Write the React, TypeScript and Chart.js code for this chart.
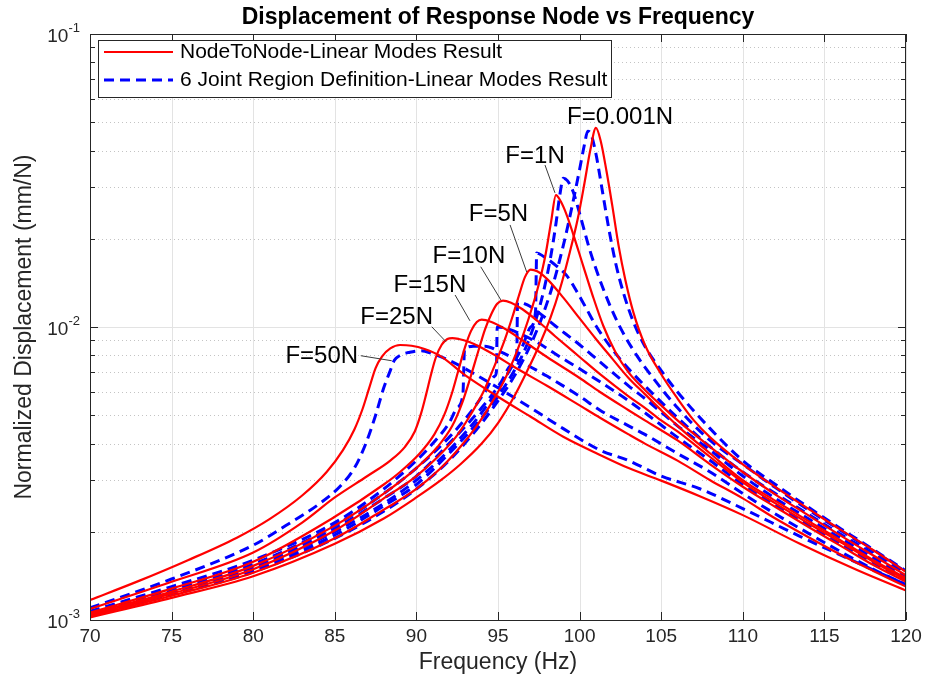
import React, { useEffect, useRef } from 'react';
import { Chart, registerables } from 'chart.js';

Chart.register(...registerables);

// ---------------- axis ticks ----------------
const xTickValues = [70, 75, 80, 85, 90, 95, 100, 105, 110, 115, 120];
const xTickLabels = ['70', '75', '80', '85', '90', '95', '100', '105', '110', '115', '120'];
const yTickValues = [0.001, 0.01, 0.1];
const yTickExponents = ['-3', '-2', '-1'];
const yMinorMultipliers = [2, 3, 4, 5, 6, 7, 8, 9];

// ---------------- NodeToNode (red, solid) ----------------
const nodeHz_0001 = [70, 75, 80, 85, 88, 90, 91.5, 92.7, 94, 95, 96, 96.8, 97.5, 98.2, 98.8, 99.4, 99.9, 100.3, 100.65, 101.0, 101.3, 101.65, 102.0, 102.4, 102.8, 103.3, 104, 105, 106, 107, 108, 110, 112, 114, 116, 118, 120];
const nodeVal_0001 = [0.00102, 0.00119, 0.00141, 0.00182, 0.00222, 0.00262, 0.003, 0.0034, 0.004, 0.0047, 0.0058, 0.0071, 0.0086, 0.0107, 0.0135, 0.018, 0.0236, 0.031, 0.04, 0.0478, 0.043, 0.034, 0.026, 0.0188, 0.0145, 0.0112, 0.0087, 0.0069, 0.0057, 0.0048, 0.0042, 0.0034, 0.00284, 0.0024, 0.00203, 0.00173, 0.00146];

const nodeHz_1 = [70, 75, 80, 85, 88, 90, 91.5, 92.7, 93.7, 94.6, 95.4, 96.1, 96.6, 97.1, 97.5, 97.9, 98.25, 98.55, 98.85, 99.2, 99.6, 100.2, 100.8, 101.45, 102.2, 103, 104, 105, 106, 108, 110, 112, 114, 116, 118, 120];
const nodeVal_1 = [0.00103, 0.00121, 0.00145, 0.0019, 0.00238, 0.0028, 0.0033, 0.0039, 0.0046, 0.0055, 0.0066, 0.0081, 0.0096, 0.0117, 0.014, 0.0175, 0.0228, 0.0282, 0.0268, 0.0242, 0.0208, 0.0163, 0.0128, 0.0101, 0.0082, 0.007, 0.0061, 0.0054, 0.0048, 0.0039, 0.0032, 0.00268, 0.00228, 0.00194, 0.00166, 0.00142];

const nodeHz_5 = [70, 75, 80, 85, 88, 90, 91.3, 92.4, 93.3, 94.1, 94.8, 95.4, 95.9, 96.3, 96.65, 97.0, 97.4, 98, 99, 100, 101, 102, 103, 104, 105, 106, 108, 110, 112, 114, 116, 118, 120];
const nodeVal_5 = [0.00104, 0.00123, 0.00149, 0.00202, 0.0026, 0.0031, 0.0036, 0.0042, 0.005, 0.006, 0.0074, 0.009, 0.0109, 0.0129, 0.0148, 0.0157, 0.0155, 0.0146, 0.0126, 0.0107, 0.0091, 0.0078, 0.0067, 0.0059, 0.0052, 0.0046, 0.0037, 0.003, 0.00255, 0.00218, 0.00187, 0.0016, 0.00139];

const nodeHz_10 = [70, 75, 80, 85, 88, 90, 91.3, 92.2, 92.8, 93.3, 93.8, 94.2, 94.6, 94.95, 95.3, 95.8, 96.5, 97.5, 98.5, 100, 101.25, 103, 104, 105, 106, 108, 110, 112, 114, 116, 118, 120];
const nodeVal_10 = [0.00105, 0.00125, 0.00153, 0.0021, 0.0027, 0.0033, 0.0039, 0.0046, 0.0055, 0.0067, 0.0083, 0.0098, 0.0111, 0.012, 0.0123, 0.0121, 0.0115, 0.0104, 0.0093, 0.0079, 0.0069, 0.0058, 0.0053, 0.0048, 0.0044, 0.0036, 0.00295, 0.0025, 0.00214, 0.00184, 0.00158, 0.00137];

const nodeHz_15 = [70, 75, 80, 85, 88, 89, 90.2, 91.1, 91.7, 92.2, 92.6, 93.0, 93.35, 93.7, 94.0, 94.6, 95.5, 96.5, 98, 100, 101.25, 103, 104, 106, 108, 110, 112, 114, 116, 118, 120];
const nodeVal_15 = [0.00106, 0.00128, 0.00158, 0.00225, 0.0029, 0.0032, 0.0037, 0.0043, 0.005, 0.006, 0.0072, 0.0086, 0.0097, 0.0104, 0.0106, 0.0104, 0.0098, 0.009, 0.0079, 0.0067, 0.006, 0.0052, 0.0048, 0.0041, 0.0034, 0.00285, 0.00243, 0.00208, 0.00179, 0.00154, 0.00135];

const nodeHz_25 = [70, 75, 80, 83, 85, 87, 88.4, 89.3, 89.9, 90.3, 90.6, 90.9, 91.2, 91.55, 91.9, 92.2, 92.6, 93.2, 94, 95, 96, 98, 100, 101.25, 103, 104, 106, 108, 110, 112, 114, 116, 118, 120];
const nodeVal_25 = [0.00109, 0.00135, 0.0017, 0.00215, 0.00262, 0.0031, 0.0035, 0.0039, 0.0044, 0.0051, 0.0059, 0.0069, 0.0079, 0.0087, 0.0091, 0.00917, 0.0091, 0.0089, 0.0085, 0.0079, 0.0073, 0.0063, 0.0054, 0.0049, 0.0043, 0.004, 0.0035, 0.003, 0.0026, 0.00222, 0.00192, 0.00167, 0.00147, 0.0013];

const nodeHz_50 = [70, 73, 76, 79, 81, 83, 84.5, 85.5, 86.2, 86.7, 87.1, 87.5, 87.9, 88.4, 89.0, 89.7, 90.5, 91.5, 93, 95, 97, 99, 101.25, 103, 105, 107.4, 110, 113.5, 117, 120];
const nodeVal_50 = [0.00117, 0.00136, 0.0016, 0.00191, 0.00221, 0.00266, 0.0032, 0.0038, 0.00447, 0.00525, 0.00617, 0.00724, 0.00794, 0.00845, 0.00868, 0.00863, 0.00841, 0.00794, 0.00684, 0.00578, 0.00494, 0.00422, 0.00366, 0.0033, 0.00299, 0.00264, 0.00228, 0.00182, 0.00148, 0.00126];

// ---------------- 6 Joint Region Definition (blue, dashed) ----------------
const jointHz_0001 = [70, 75, 80, 85, 88, 90, 92, 94, 95, 96, 97, 97.8, 98.5, 99.1, 99.6, 100.0, 100.3, 100.5, 100.7, 101.0, 101.4, 101.8, 102.2, 102.7, 103.3, 104, 105, 106, 108, 110, 112, 114, 116, 118, 120];
const jointVal_0001 = [0.00104, 0.00122, 0.00146, 0.0019, 0.00235, 0.0028, 0.0035, 0.0047, 0.0056, 0.0068, 0.0087, 0.0112, 0.0148, 0.02, 0.0268, 0.0345, 0.042, 0.0466, 0.0455, 0.039, 0.029, 0.0215, 0.0166, 0.013, 0.0104, 0.0086, 0.0071, 0.006, 0.0045, 0.0035, 0.0029, 0.00243, 0.00205, 0.00174, 0.00147];

const jointHz_1 = [70, 75, 80, 85, 88, 90, 92, 94, 95, 96, 96.7, 97.3, 97.8, 98.2, 98.55, 98.8, 99.0, 99.25, 99.6, 100.1, 100.6, 101.2, 101.9, 102.6, 103.5, 104.5, 106, 108, 110, 112, 114, 116, 118, 120];
const jointVal_1 = [0.00104, 0.00123, 0.00148, 0.00195, 0.00245, 0.0029, 0.0037, 0.0049, 0.0058, 0.0071, 0.0085, 0.0105, 0.0133, 0.017, 0.0225, 0.0285, 0.0322, 0.0316, 0.029, 0.0233, 0.0185, 0.0147, 0.0117, 0.0097, 0.008, 0.0067, 0.0053, 0.0041, 0.0034, 0.00283, 0.00238, 0.00202, 0.00172, 0.00146];

const jointHz_5 = [70, 75, 80, 85, 88, 90, 92, 94, 95.5, 96.5, 97.0, 97.3, 97.37, 97.8, 98.5, 99.2, 99.8, 100.4, 101, 102, 103, 104, 106, 108, 110, 112, 114, 116, 118, 120];
const jointVal_5 = [0.00104, 0.00124, 0.0015, 0.002, 0.0025, 0.003, 0.0038, 0.0051, 0.0068, 0.0086, 0.01, 0.0113, 0.0179, 0.0174, 0.0163, 0.015, 0.0133, 0.0116, 0.0101, 0.0084, 0.0072, 0.0063, 0.0049, 0.0039, 0.0032, 0.0027, 0.0023, 0.00196, 0.00168, 0.00143];

const jointHz_10 = [70, 75, 80, 85, 88, 90, 92, 94, 95.2, 95.8, 96.15, 96.2, 96.8, 97.5, 98.5, 100, 101.25, 103, 104, 106, 108, 110, 112, 114, 116, 118, 120];
const jointVal_10 = [0.00105, 0.00126, 0.00152, 0.00205, 0.0026, 0.0031, 0.004, 0.0053, 0.0065, 0.0074, 0.0081, 0.0122, 0.0119, 0.0112, 0.0101, 0.0087, 0.0076, 0.0063, 0.0057, 0.0046, 0.0038, 0.0031, 0.0026, 0.00222, 0.0019, 0.00163, 0.0014];

const jointHz_15 = [70, 75, 80, 85, 88, 90, 92, 93.3, 94.2, 94.8, 94.9, 94.95, 95.5, 96.5, 97.5, 98.5, 100, 101.25, 103, 104, 106, 108, 110, 112, 114, 116, 118, 120];
const jointVal_15 = [0.00105, 0.00127, 0.00155, 0.0021, 0.0027, 0.0033, 0.0042, 0.0051, 0.006, 0.0068, 0.007, 0.01, 0.0099, 0.0094, 0.0088, 0.0081, 0.0072, 0.0065, 0.0056, 0.0051, 0.0042, 0.0035, 0.0029, 0.00247, 0.00211, 0.00182, 0.00157, 0.00137];

const jointHz_25 = [70, 75, 80, 85, 88, 90, 91, 92, 92.5, 92.85, 92.95, 93.5, 94.2, 95, 96, 97, 98, 100, 101.25, 103, 104, 106, 108, 110, 112, 114, 116, 118, 120];
const jointVal_25 = [0.00107, 0.0013, 0.0016, 0.00215, 0.0028, 0.0035, 0.004, 0.0047, 0.0053, 0.0059, 0.0084, 0.0086, 0.0086, 0.0083, 0.0078, 0.0073, 0.0068, 0.0058, 0.0052, 0.0046, 0.0043, 0.0037, 0.0032, 0.0027, 0.0023, 0.00198, 0.00171, 0.00149, 0.00132];

const jointHz_50 = [70, 75, 80, 82, 84, 85.3, 86.2, 86.9, 87.5, 88.0, 88.4, 88.65, 89.0, 89.6, 90.3, 91, 92, 93, 95, 97, 99, 101.25, 103, 105, 107.4, 110, 113.5, 117, 120];
const jointVal_50 = [0.0011, 0.00138, 0.0018, 0.0021, 0.00248, 0.00285, 0.0033, 0.004, 0.005, 0.0062, 0.0071, 0.0077, 0.008, 0.0082, 0.0083, 0.0081, 0.0077, 0.0072, 0.0062, 0.0053, 0.0045, 0.0038, 0.0035, 0.0031, 0.0028, 0.0024, 0.00193, 0.00157, 0.00132];

const legendLabels = ['NodeToNode-Linear Modes Result', '6 Joint Region Definition-Linear Modes Result'];

const redSeries = [
  [nodeHz_0001, nodeVal_0001], [nodeHz_1, nodeVal_1], [nodeHz_5, nodeVal_5], [nodeHz_10, nodeVal_10],
  [nodeHz_15, nodeVal_15], [nodeHz_25, nodeVal_25], [nodeHz_50, nodeVal_50],
];
const blueSeries = [
  [jointHz_0001, jointVal_0001], [jointHz_1, jointVal_1], [jointHz_5, jointVal_5], [jointHz_10, jointVal_10],
  [jointHz_15, jointVal_15], [jointHz_25, jointVal_25], [jointHz_50, jointVal_50],
];

// ---------------- text annotations (data coordinates) ----------------
type Ann = { text: string; at: [number, number]; from?: [number, number]; to?: [number, number] };
const annotations: Ann[] = [
  { text: 'F=0.001N', at: [102.48, 0.0521] },
  { text: 'F=1N', at: [97.27, 0.0383], from: [97.88, 0.0357], to: [98.49, 0.0287] },
  { text: 'F=5N', at: [95.03, 0.0243], from: [95.74, 0.0223], to: [96.76, 0.0154] },
  { text: 'F=10N', at: [93.22, 0.01747], from: [93.94, 0.01606], to: [95.18, 0.01236] },
  { text: 'F=15N', at: [90.83, 0.0139], from: [92.37, 0.01286], to: [93.28, 0.0105] },
  { text: 'F=25N', at: [88.79, 0.01077], from: [90.94, 0.01002], to: [91.81, 0.00891] },
  { text: 'F=50N', at: [84.2, 0.00796], from: [86.59, 0.00798], to: [88.49, 0.00767] },
];

const FONT = '"Liberation Sans", Arial, Helvetica, sans-serif';
const AXIS_COLOR = '#262626';

const decorPlugin = {
  id: 'matlabDecor',
  beforeDatasetsDraw(chart: any) {
    const { ctx, chartArea: a, scales } = chart;
    const xs = scales.x;
    const ys = scales.y;
    ctx.save();
    ctx.lineWidth = 1;
    ctx.strokeStyle = '#c4c4c4';
    ctx.setLineDash([1, 3]);
    for (const d of [0.001, 0.01]) {
      for (const m of yMinorMultipliers) {
        const py = Math.round(ys.getPixelForValue(d * m)) + 0.5;
        ctx.beginPath();
        ctx.moveTo(a.left, py);
        ctx.lineTo(a.right, py);
        ctx.stroke();
      }
    }
    ctx.setLineDash([]);
    ctx.strokeStyle = '#e3e3e3';
    for (const v of yTickValues) {
      const py = Math.round(ys.getPixelForValue(v)) + 0.5;
      ctx.beginPath();
      ctx.moveTo(a.left, py);
      ctx.lineTo(a.right, py);
      ctx.stroke();
    }
    for (const v of xTickValues) {
      const px = Math.round(xs.getPixelForValue(v)) + 0.5;
      ctx.beginPath();
      ctx.moveTo(px, a.top);
      ctx.lineTo(px, a.bottom);
      ctx.stroke();
    }
    ctx.restore();
  },
  afterDatasetsDraw(chart: any) {
    const { ctx, chartArea: a, scales } = chart;
    const xs = scales.x;
    const ys = scales.y;
    ctx.save();
    ctx.setLineDash([]);

    ctx.strokeStyle = AXIS_COLOR;
    ctx.lineWidth = 1;
    ctx.strokeRect(a.left + 0.5, a.top + 0.5, a.right - a.left - 1, a.bottom - a.top);

    ctx.beginPath();
    for (const v of xTickValues) {
      const px = Math.round(xs.getPixelForValue(v)) + 0.5;
      ctx.moveTo(px, a.bottom);
      ctx.lineTo(px, a.bottom - 8);
      ctx.moveTo(px, a.top);
      ctx.lineTo(px, a.top + 8);
    }
    for (const v of yTickValues) {
      const py = Math.round(ys.getPixelForValue(v)) + 0.5;
      ctx.moveTo(a.left, py);
      ctx.lineTo(a.left + 8, py);
      ctx.moveTo(a.right, py);
      ctx.lineTo(a.right - 8, py);
    }
    for (const d of [0.001, 0.01]) {
      for (const m of yMinorMultipliers) {
        const py = Math.round(ys.getPixelForValue(d * m)) + 0.5;
        ctx.moveTo(a.left, py);
        ctx.lineTo(a.left + 5, py);
        ctx.moveTo(a.right, py);
        ctx.lineTo(a.right - 5, py);
      }
    }
    ctx.stroke();

    ctx.fillStyle = AXIS_COLOR;
    ctx.font = `19px ${FONT}`;
    ctx.textAlign = 'center';
    ctx.textBaseline = 'middle';
    xTickValues.forEach((v, i) => {
      ctx.fillText(xTickLabels[i], xs.getPixelForValue(v), a.bottom + 17);
    });

    yTickValues.forEach((v, i) => {
      const py = ys.getPixelForValue(v);
      ctx.font = `13px ${FONT}`;
      const ew = ctx.measureText(yTickExponents[i]).width;
      ctx.font = `19px ${FONT}`;
      const bw = ctx.measureText('10').width;
      const right = 80;
      ctx.textAlign = 'left';
      ctx.textBaseline = 'middle';
      ctx.fillText('10', right - ew - bw, py + 3);
      ctx.font = `13px ${FONT}`;
      ctx.fillText(yTickExponents[i], right - ew, py - 6);
    });

    ctx.fillStyle = AXIS_COLOR;
    ctx.font = `23px ${FONT}`;
    ctx.textAlign = 'center';
    ctx.textBaseline = 'middle';
    ctx.fillText('Frequency (Hz)', (a.left + a.right) / 2, 663);
    ctx.save();
    ctx.translate(25, (a.top + a.bottom) / 2);
    ctx.rotate(-Math.PI / 2);
    ctx.fillText('Normalized Displacement (mm/N)', 0, 0);
    ctx.restore();

    ctx.fillStyle = '#000';
    ctx.font = `bold 23px ${FONT}`;
    ctx.fillText('Displacement of Response Node vs Frequency', (a.left + a.right) / 2, 18);

    ctx.strokeStyle = '#3a3a3a';
    ctx.lineWidth = 1;
    for (const an of annotations) {
      if (an.from && an.to) {
        ctx.beginPath();
        ctx.moveTo(xs.getPixelForValue(an.from[0]), ys.getPixelForValue(an.from[1]));
        ctx.lineTo(xs.getPixelForValue(an.to[0]), ys.getPixelForValue(an.to[1]));
        ctx.stroke();
      }
    }
    ctx.fillStyle = '#000';
    ctx.font = `24px ${FONT}`;
    ctx.textAlign = 'center';
    ctx.textBaseline = 'middle';
    for (const an of annotations) {
      ctx.fillText(an.text, xs.getPixelForValue(an.at[0]), ys.getPixelForValue(an.at[1]));
    }

    const lx = a.left + 8, ly = a.top + 6, lw = 513, lh = 57;
    ctx.fillStyle = '#fff';
    ctx.fillRect(lx, ly, lw, lh);
    ctx.strokeStyle = AXIS_COLOR;
    ctx.lineWidth = 1;
    ctx.strokeRect(lx + 0.5, ly + 0.5, lw, lh);
    const rows = [ly + 12, ly + 40];
    ctx.strokeStyle = '#ff0000';
    ctx.lineWidth = 2.2;
    ctx.beginPath();
    ctx.moveTo(lx + 6, rows[0]);
    ctx.lineTo(lx + 75, rows[0]);
    ctx.stroke();
    ctx.strokeStyle = '#0000ff';
    ctx.lineWidth = 3;
    ctx.setLineDash([10, 6]);
    ctx.beginPath();
    ctx.moveTo(lx + 6, rows[1]);
    ctx.lineTo(lx + 75, rows[1]);
    ctx.stroke();
    ctx.setLineDash([]);
    ctx.fillStyle = '#000';
    ctx.font = `21px ${FONT}`;
    ctx.textAlign = 'left';
    ctx.textBaseline = 'middle';
    ctx.fillText(legendLabels[0], lx + 82, rows[0]);
    ctx.fillText(legendLabels[1], lx + 82, rows[1]);

    ctx.restore();
  },
};

export default function App() {
  const canvasRef = useRef<HTMLCanvasElement>(null);

  useEffect(() => {
    const canvas = canvasRef.current;
    if (!canvas) return;
    const toPoints = (hz: number[], val: number[]) => hz.map((x, i) => ({ x, y: val[i] }));
    const datasets: any[] = [];
    redSeries.forEach(([hz, val]) => {
      datasets.push({
        label: legendLabels[0],
        data: toPoints(hz, val),
        borderColor: '#ff0000',
        borderWidth: 2.2,
        pointRadius: 0,
        fill: false,
        cubicInterpolationMode: 'monotone',
      });
    });
    blueSeries.forEach(([hz, val]) => {
      datasets.push({
        label: legendLabels[1],
        data: toPoints(hz, val),
        borderColor: '#0000ff',
        borderWidth: 3,
        borderDash: [10, 6],
        pointRadius: 0,
        fill: false,
        cubicInterpolationMode: 'monotone',
      });
    });

    const chart = new Chart(canvas, {
      type: 'line',
      data: { datasets },
      options: {
        animation: false,
        responsive: false,
        maintainAspectRatio: false,
        layout: { padding: { left: 90, right: 21, top: 34, bottom: 68 } },
        plugins: {
          legend: { display: false },
          title: { display: false },
          tooltip: { enabled: false },
        },
        scales: {
          x: { type: 'linear', min: 70, max: 120, display: false },
          y: { type: 'logarithmic', min: 0.001, max: 0.1, display: false },
        },
      },
      plugins: [decorPlugin],
    });
    return () => chart.destroy();
  }, []);

  return (
    <div style={{ position: 'absolute', left: 0, top: 0, width: 927, height: 688, background: '#fff' }}>
      <canvas ref={canvasRef} width={927} height={688} style={{ display: 'block', width: 927, height: 688 }} />
    </div>
  );
}
